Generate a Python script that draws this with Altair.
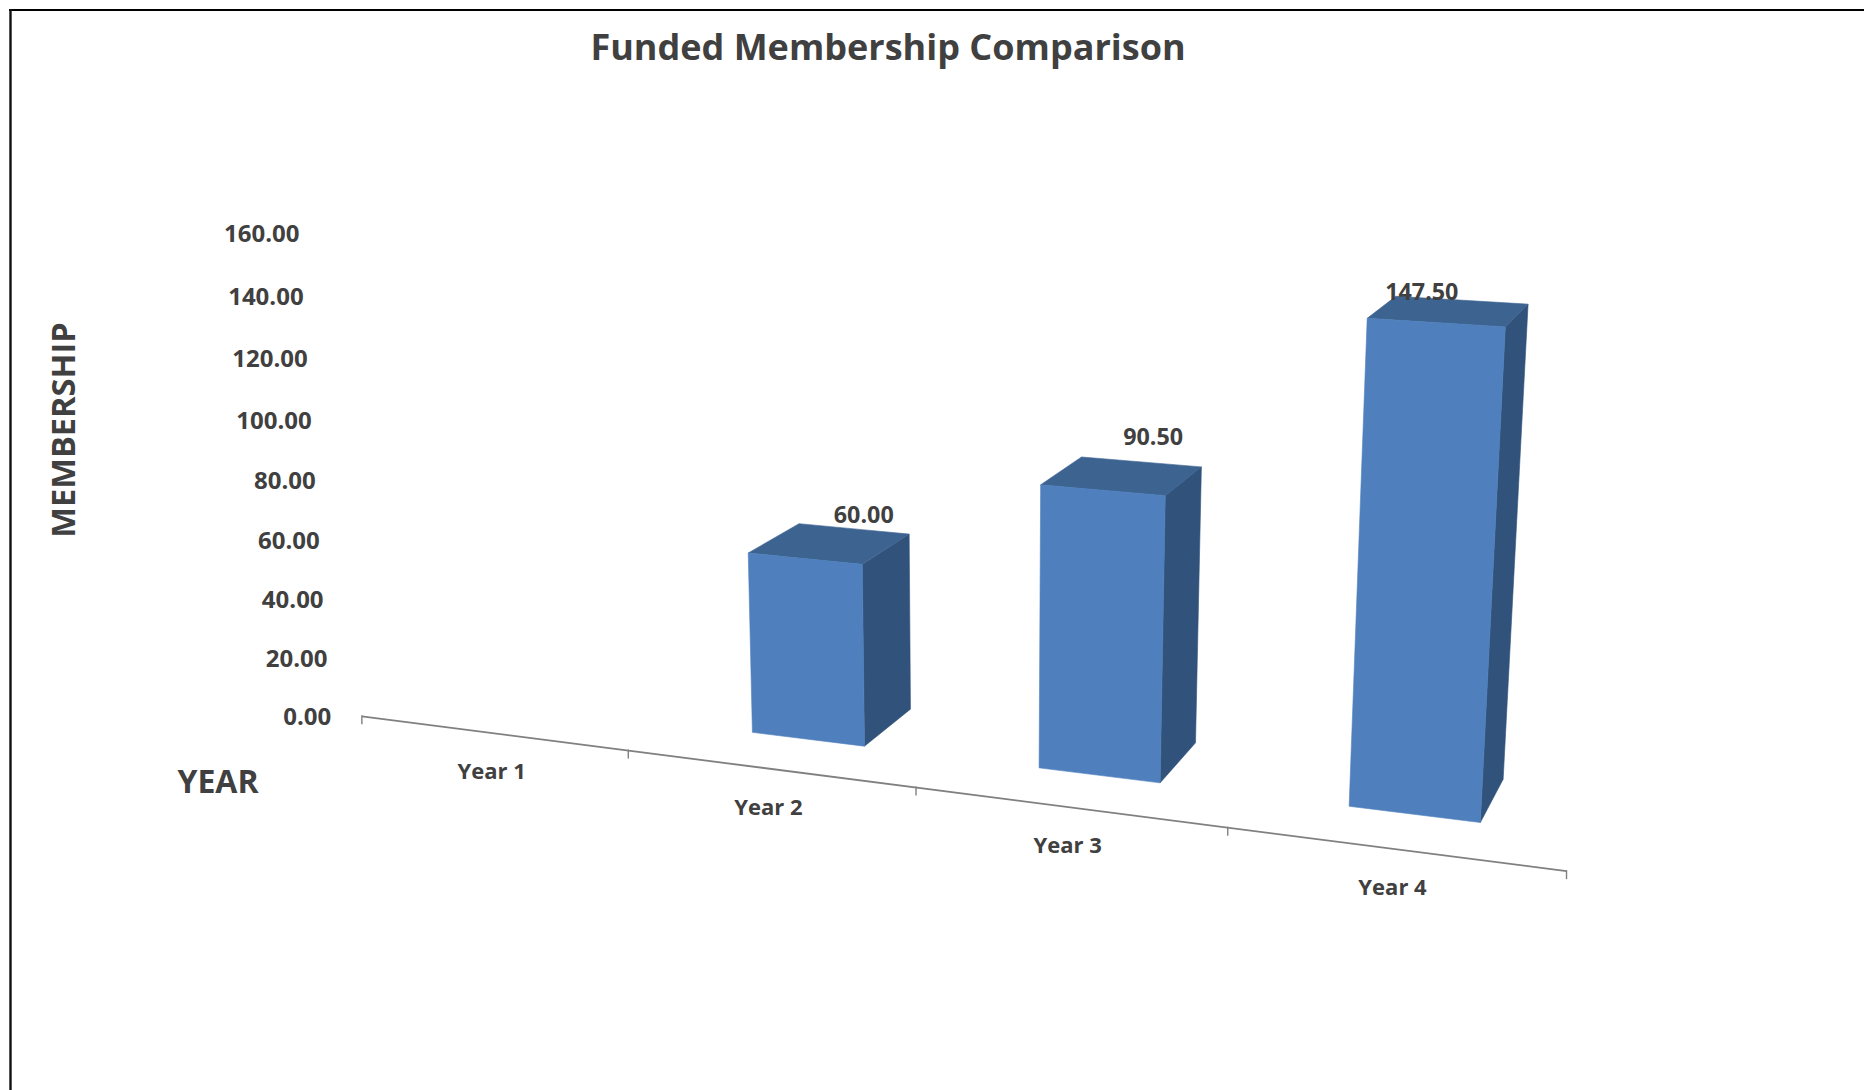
import altair as alt
import numpy as np
import pandas as pd

# Chart content
years = ["Year 1", "Year 2", "Year 3", "Year 4"]
funded = [None, 60.0, 90.5, 147.5]
value_ticks = [0, 20, 40, 60, 80, 100, 120, 140, 160]

# Layout and style
W, H = 1864, 1090
TEXT = "#404040"
FONT = "Open Sans"
FRONT, TOP, SIDE = "#4F80BD", "#3D6391", "#31537B"
BAR_INSET = 0.3          # gap either side of a bar, in category widths
LABEL_NUDGE = [None, (34, -27), (31, -38), (-27, -18)]

# Perspective camera: (category position, value, depth) -> page pixels
CAMERA = np.array([
    [243.16928857957186, -0.2860324190435264, 203.9910928497063, 361.8715486875935],
    [6.456105388302213, -3.097414585181774, -17.501200274359096, 716.3433831297996],
    [-0.037020655602041104, -0.00029050865449071686, 0.1018155459391844, 1.0],
])


def project(u, v, d):
    h = CAMERA @ np.array([u, v, d, 1.0])
    return float(h[0] / h[2]), float(h[1] / h[2])


def edge_y(poly, x):
    """Upper and lower edge of a convex polygon at page position x."""
    ys = []
    n = len(poly)
    for k in range(n):
        (x0, y0), (x1, y1) = poly[k], poly[(k + 1) % n]
        if min(x0, x1) - 1e-9 <= x <= max(x0, x1) + 1e-9:
            if abs(x1 - x0) < 1e-9:
                ys += [y0, y1]
            else:
                ys.append(y0 + (y1 - y0) * (x - x0) / (x1 - x0))
    return min(ys), max(ys)


# One area per visible bar face, swept left to right across its corners
face_rows = []
for i, value in enumerate(funded):
    if value is None:
        continue
    u0, u1 = i + BAR_INSET, i + 1 - BAR_INSET
    d0, d1 = BAR_INSET, 1 - BAR_INSET
    faces = {
        "side": (SIDE, [(u1, 0, d0), (u1, value, d0), (u1, value, d1), (u1, 0, d1)]),
        "top": (TOP, [(u0, value, d0), (u0, value, d1), (u1, value, d1), (u1, value, d0)]),
        "front": (FRONT, [(u0, 0, d0), (u0, value, d0), (u1, value, d0), (u1, 0, d0)]),
    }
    for name, (tone, corners) in faces.items():
        poly = [project(*c) for c in corners]
        for x in sorted(p[0] for p in poly):
            upper, lower = edge_y(poly, x)
            face_rows.append({"face": f"{years[i]} {name}", "tone": tone,
                              "sx": x, "upper": upper, "lower": lower})
faces_df = pd.DataFrame(face_rows)

# Category axis: line, ticks and labels along the front floor edge
ax0, ay0 = project(0, 0, 0)
ax1, ay1 = project(len(years), 0, 0)
axis_df = pd.DataFrame([{"x": ax0, "y": ay0, "x2": ax1, "y2": ay1}])
tick_rows = []
for i in range(len(years) + 1):
    x, y = project(i, 0, 0)
    tick_rows.append({"x": x, "y": y - 1, "y2": y + 8})
ticks_df = pd.DataFrame(tick_rows)
cat_df = pd.DataFrame([
    {"label": name, "x": project(i + 0.5, 0, 0)[0] - 1, "y": project(i + 0.5, 0, 0)[1] + 39}
    for i, name in enumerate(years)
])

# Value axis labels stand just left of the floor corner
val_df = pd.DataFrame([
    {"label": f"{v:.2f}", "x": project(-0.12, v, 0)[0], "y": project(-0.12, v, 0)[1] + 5.5}
    for v in value_ticks
])

# Value labels above the bars
bar_label_rows = []
for i, value in enumerate(funded):
    if value is None:
        continue
    cx, cy = project(i + 0.5, value, 0.5)
    nx, ny = LABEL_NUDGE[i]
    bar_label_rows.append({"label": f"{value:.2f}", "x": cx + nx, "y": cy + ny})
bar_labels_df = pd.DataFrame(bar_label_rows)

X = alt.X("x:Q", scale=alt.Scale(domain=[0, W]), axis=None)
Y = alt.Y("y:Q", scale=alt.Scale(domain=[H, 0]), axis=None)

faces_layer = alt.Chart(faces_df).mark_area(strokeWidth=0.6, opacity=1).encode(
    x=alt.X("sx:Q", scale=alt.Scale(domain=[0, W]), axis=None),
    y=alt.Y("upper:Q", scale=alt.Scale(domain=[H, 0]), axis=None),
    y2="lower:Q",
    detail="face:N",
    fill=alt.Fill("tone:N", scale=None),
    stroke=alt.Stroke("tone:N", scale=None),
)

axis_layer = alt.Chart(axis_df).mark_rule(color="#808080", strokeWidth=1.8).encode(
    x=X, y=Y, x2="x2:Q", y2="y2:Q")
ticks_layer = alt.Chart(ticks_df).mark_rule(color="#808080", strokeWidth=1.4).encode(
    x=X, y=Y, y2="y2:Q")


def text_layer(df, size, align="center"):
    return alt.Chart(df).mark_text(
        font=FONT, fontWeight="bold", fontSize=size, color=TEXT,
        align=align, baseline="middle",
    ).encode(x=X, y=Y, text="label:N")


def caption(text, x, y, size, angle=0):
    return alt.Chart(pd.DataFrame([{"label": text}])).mark_text(
        font=FONT, fontWeight="bold", fontSize=size, color=TEXT,
        align="center", baseline="middle", angle=angle,
    ).encode(x=alt.value(x), y=alt.value(y), text="label:N")


# Frame lines along the top and left edges
frame_top = alt.Chart(pd.DataFrame([{"k": 0}])).mark_rule(color="#000000", strokeWidth=2).encode(
    x=alt.value(9), x2=alt.value(W), y=alt.value(10))
frame_left = alt.Chart(pd.DataFrame([{"k": 0}])).mark_rule(color="#111111", strokeWidth=2.4).encode(
    x=alt.value(10.5), y=alt.value(9), y2=alt.value(H))

chart = alt.layer(
    frame_top,
    frame_left,
    faces_layer,
    axis_layer,
    ticks_layer,
    text_layer(val_df, 24, "right"),
    text_layer(cat_df, 22),
    text_layer(bar_labels_df, 23.3),
    caption("Funded Membership Comparison", 888, 48.5, 36),
    caption("MEMBERSHIP", 65, 430, 32.6, 270),
    caption("YEAR", 218, 783, 32),
).properties(
    width=W, height=H, padding=0, autosize=alt.AutoSizeParams(type="none"),
    background="#ffffff",
).configure_view(stroke=None)

chart.save("out.html", embed_options={"renderer": "svg", "actions": False})
